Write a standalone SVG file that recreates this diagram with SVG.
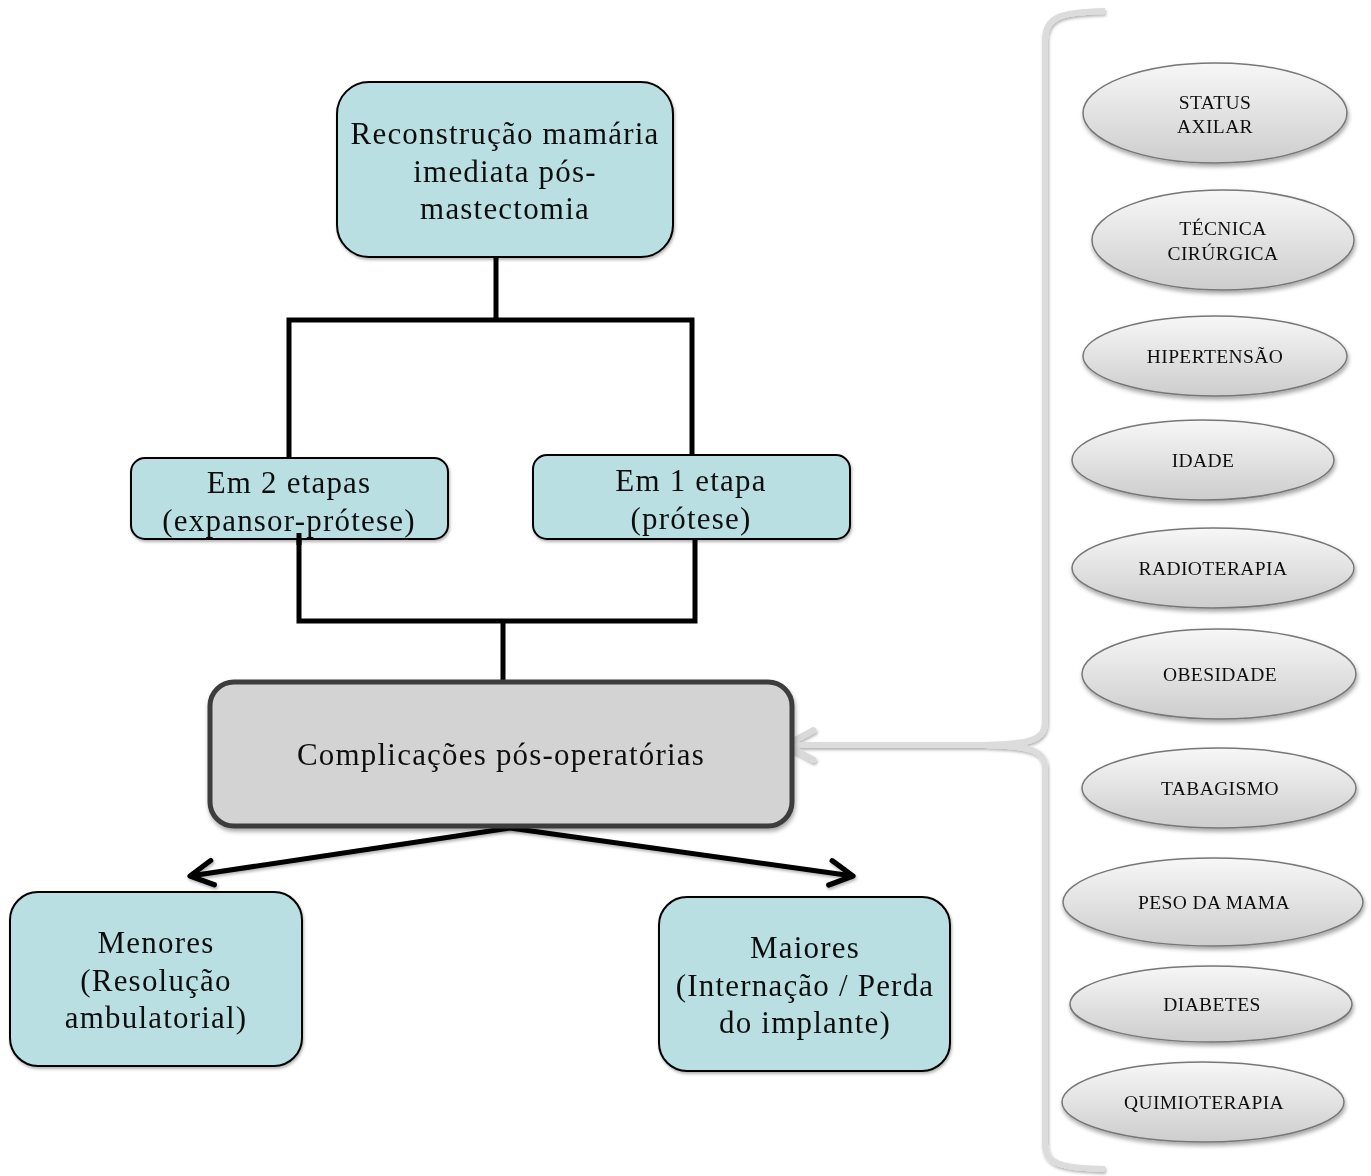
<svg xmlns="http://www.w3.org/2000/svg" width="1371" height="1176" viewBox="0 0 1371 1176">
<defs>
<linearGradient id="eg" x1="0" y1="0" x2="0" y2="1">
<stop offset="0" stop-color="#f7f7f7"/>
<stop offset="1" stop-color="#cdcdcd"/>
</linearGradient>
<filter id="sh" x="-10%" y="-10%" width="130%" height="140%">
<feDropShadow dx="1" dy="3" stdDeviation="2" flood-color="#000" flood-opacity="0.35"/>
</filter>
<filter id="sh2" x="-10%" y="-10%" width="130%" height="140%">
<feDropShadow dx="1" dy="2" stdDeviation="1.5" flood-color="#000" flood-opacity="0.3"/>
</filter>
<marker id="ah" viewBox="0 0 20 20" refX="17" refY="10" markerWidth="7" markerHeight="7" markerUnits="strokeWidth" orient="auto">
<path d="M4,3 L17,10 L4,17" fill="none" stroke="#000" stroke-width="3" stroke-linecap="round" stroke-linejoin="round"/>
</marker>
<marker id="gah" viewBox="0 0 20 20" refX="17" refY="10" markerWidth="7" markerHeight="7" markerUnits="strokeWidth" orient="auto">
<path d="M4,3 L17,10 L4,17" fill="none" stroke="#d9d9d9" stroke-width="3" stroke-linecap="round" stroke-linejoin="round"/>
</marker>
</defs>
<style>
.box{fill:#badfe2;stroke:#000;stroke-width:2;}
.t{font-family:"Liberation Serif","DejaVu Serif",serif;font-size:31px;letter-spacing:1.2px;fill:#111;text-anchor:middle;}
.e{fill:url(#eg);stroke:#777;stroke-width:1.5;}
.et{font-family:"Liberation Serif","DejaVu Serif",serif;font-size:19.5px;letter-spacing:0.4px;fill:#111;text-anchor:middle;}
.c{fill:none;stroke:#000;stroke-width:5;}
</style>
<rect width="1371" height="1176" fill="#fff"/>

<g id="connectors">
<path class="c" d="M496,257 V320 M289,458 V320 H692 V456"/>
<path class="c" d="M299,533 V621 H503 M695,540 V621 H503 V682"/>
<g filter="url(#sh2)">
<line x1="510" y1="828" x2="190" y2="876" stroke="#000" stroke-width="5" marker-end="url(#ah)"/>
<line x1="510" y1="828" x2="853" y2="876" stroke="#000" stroke-width="5" marker-end="url(#ah)"/>
</g>
<g filter="url(#sh2)">
<path d="M1105,11 C1062,12 1045,16 1045,40 L1045,722 C1045,740 1030,744 985,745 C1030,746 1045,750 1045,768 L1045,1145 C1045,1164 1062,1168 1105,1169" fill="none" stroke="#dcdcdc" stroke-width="6"/>
<line x1="985" y1="745" x2="786" y2="745" stroke="#dcdcdc" stroke-width="6" marker-end="url(#gah)"/>
</g>
</g>

<g id="n-reconstrucao" filter="url(#sh2)">
<rect class="box" x="337" y="82" width="336" height="175" rx="32"/>
<text class="t" x="505" y="144">Reconstrução mamária</text>
<text class="t" x="505" y="182">imediata pós-</text>
<text class="t" x="505" y="219">mastectomia</text>
</g>

<g id="n-2etapas" filter="url(#sh2)">
<rect class="box" x="131" y="458" width="317" height="81" rx="14"/>
<text class="t" x="289" y="493">Em 2 etapas</text>
<text class="t" x="289" y="531">(expansor-prótese)</text>
</g>

<g id="n-1etapa" filter="url(#sh2)">
<rect class="box" x="533" y="455" width="317" height="84" rx="14"/>
<text class="t" x="691" y="491">Em 1 etapa</text>
<text class="t" x="691" y="529">(prótese)</text>
</g>
<path class="c" d="M299,533 V545"/>

<g id="n-complicacoes" filter="url(#sh)">
<rect x="210" y="682" width="582" height="144" rx="24" fill="#d3d3d3" stroke="#3d3d3d" stroke-width="5"/>
<text class="t" x="501" y="765">Complicações pós-operatórias</text>
</g>

<g id="n-menores" filter="url(#sh2)">
<rect class="box" x="10" y="892" width="292" height="174" rx="28"/>
<text class="t" x="156" y="953">Menores</text>
<text class="t" x="156" y="991">(Resolução</text>
<text class="t" x="156" y="1028">ambulatorial)</text>
</g>

<g id="n-maiores" filter="url(#sh2)">
<rect class="box" x="659" y="897" width="291" height="174" rx="28"/>
<text class="t" x="805" y="958">Maiores</text>
<text class="t" x="805" y="996">(Internação / Perda</text>
<text class="t" x="805" y="1033">do implante)</text>
</g>

<g id="f-status" filter="url(#sh)"><ellipse class="e" cx="1215" cy="113" rx="132" ry="50"/><text class="et" x="1215" y="109">STATUS</text><text class="et" x="1215" y="133">AXILAR</text></g>
<g id="f-tecnica" filter="url(#sh)"><ellipse class="e" cx="1223" cy="240" rx="131" ry="50"/><text class="et" x="1223" y="235">TÉCNICA</text><text class="et" x="1223" y="260">CIRÚRGICA</text></g>
<g id="f-hipertensao" filter="url(#sh)"><ellipse class="e" cx="1215" cy="356" rx="132" ry="40"/><text class="et" x="1215" y="363">HIPERTENSÃO</text></g>
<g id="f-idade" filter="url(#sh)"><ellipse class="e" cx="1203" cy="460" rx="131" ry="40"/><text class="et" x="1203" y="467">IDADE</text></g>
<g id="f-radioterapia" filter="url(#sh)"><ellipse class="e" cx="1213" cy="568" rx="141" ry="40"/><text class="et" x="1213" y="575">RADIOTERAPIA</text></g>
<g id="f-obesidade" filter="url(#sh)"><ellipse class="e" cx="1219" cy="674" rx="137" ry="45"/><text class="et" x="1220" y="681">OBESIDADE</text></g>
<g id="f-tabagismo" filter="url(#sh)"><ellipse class="e" cx="1219" cy="788" rx="137" ry="40"/><text class="et" x="1220" y="795">TABAGISMO</text></g>
<g id="f-peso" filter="url(#sh)"><ellipse class="e" cx="1213" cy="902" rx="150" ry="44"/><text class="et" x="1214" y="909">PESO DA MAMA</text></g>
<g id="f-diabetes" filter="url(#sh)"><ellipse class="e" cx="1211" cy="1004" rx="141" ry="38"/><text class="et" x="1212" y="1011">DIABETES</text></g>
<g id="f-quimioterapia" filter="url(#sh)"><ellipse class="e" cx="1203" cy="1102" rx="141" ry="40"/><text class="et" x="1204" y="1109">QUIMIOTERAPIA</text></g>
</svg>
